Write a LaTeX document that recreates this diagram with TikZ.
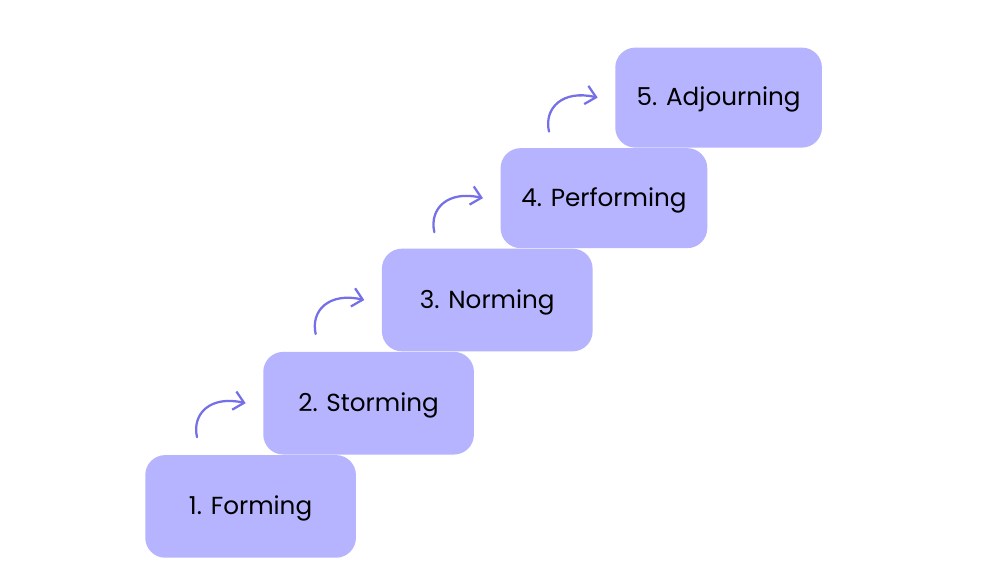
\documentclass[tikz,border=0pt]{standalone}
\usepackage{fontspec}
\setmainfont{Poppins}
\usetikzlibrary{positioning,arrows.meta}
\definecolor{stagefill}{HTML}{B6B3FF}
\definecolor{flowline}{HTML}{7570E8}
\begin{document}
\begin{tikzpicture}[x=0.75pt,y=-0.75pt,
  stage/.style = {shape=rectangle, rounded corners=15pt, fill=stagefill,
    minimum width=158pt, minimum height=77pt, anchor=south west,
    font=\fontsize{18.5}{22}\selectfont, inner sep=0pt,
    text height=13pt, text depth=1pt},
  flow/.style = {draw=flowline, line width=1.7pt, line cap=round,
    -{Straight Barb[length=7.5pt,width=14pt,line width=1.7pt]}}]
  \useasboundingbox (0,0) rectangle (998,586);
  \node[stage] (form) at (145,558) {1. Forming};
  \node[stage] (storm) at ([xshift=88.5pt]form.north west) {2. Storming};
  \node[stage] (norm) at ([xshift=89pt]storm.north west) {3. Norming};
  \node[stage, minimum width=155pt, minimum height=75pt] (perf) at ([xshift=89pt]norm.north west) {4. Performing};
  \node[stage, minimum width=155pt, minimum height=75pt] (adj) at ([xshift=86pt]perf.north west) {5. Adjourning};
  % little curved arrows between the steps
  \foreach \lo/\hi in {form/storm, storm/norm, norm/perf, perf/adj} {
    \coordinate (\hi-from) at ([xshift=-49.5pt,yshift=-25.5pt]\hi.west);
    \coordinate (\hi-to) at ([xshift=-13pt]\hi.west);
    \draw[flow] (\hi-from) .. controls +(-4pt,18pt) and +(-26pt,6pt) .. (\hi-to);
  }
\end{tikzpicture}
\end{document}
